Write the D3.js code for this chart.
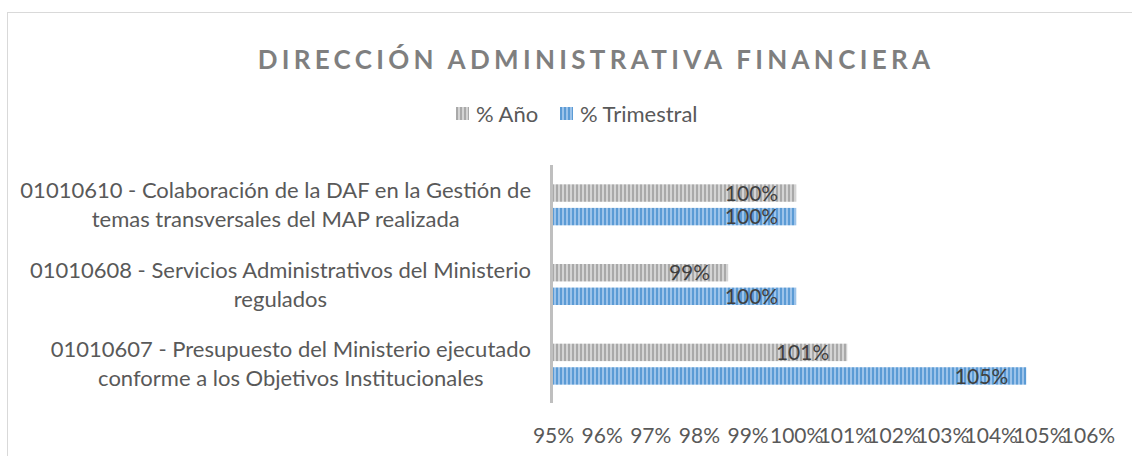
<!DOCTYPE html>
<html>
<head>
<meta charset="utf-8">
<script src="https://cdn.jsdelivr.net/npm/d3@7"></script>
<style>
  body { margin: 0; background: #fff; }
  text { font-family: Lato, "Open Sans", sans-serif; }
</style>
</head>
<body>
<div id="chart"></div>
<script>
// datos
const categorias = [
    ["01010610 - Colaboración de la DAF en la Gestión de", "temas transversales del MAP realizada"],
    ["01010608 - Servicios Administrativos del Ministerio", "regulados"],
    ["01010607 - Presupuesto del Ministerio ejecutado", "conforme a los Objetivos Institucionales"]
];
const series = ["% Año", "% Trimestral"];
const valoresAnio = [1.00, 0.986, 1.0105];
const valoresTrimestral = [1.00, 1.00, 1.0473];
const ticks = [0.95, 0.96, 0.97, 0.98, 0.99, 1.00, 1.01, 1.02, 1.03, 1.04, 1.05, 1.06];

const width = 1132, height = 456;

const svg = d3.select("#chart")
    .append("svg")
    .attr("width", width)
    .attr("height", height);

// patrones de rayas verticales
const defs = svg.append("defs");
const patrones = [
    { id: "rayaGris", claro: "#d4d4d4", oscuro: "#a9a9a9" },
    { id: "rayaAzul", claro: "#9cc3ea", oscuro: "#5b9bd5" }
];
patrones.forEach(p => {
    const pat = defs.append("pattern")
        .attr("id", p.id)
        .attr("patternUnits", "userSpaceOnUse")
        .attr("width", 4).attr("height", 4);
    pat.append("rect").attr("width", 4).attr("height", 4).attr("fill", p.claro);
    pat.append("rect").attr("width", 2).attr("height", 4).attr("fill", p.oscuro);
});
const relleno = ["url(#rayaGris)", "url(#rayaAzul)"];

// marco del área del gráfico
svg.append("rect")
    .attr("x", 7.5).attr("y", 12.5)
    .attr("width", 1200).attr("height", 600)
    .attr("fill", "none")
    .attr("stroke", "#d9d9d9");

// título
svg.append("text")
    .attr("x", 596).attr("y", 69)
    .attr("text-anchor", "middle")
    .attr("fill", "#7f7f7f")
    .attr("font-size", 26)
    .attr("font-weight", "bold")
    .attr("letter-spacing", 4.3)
    .text("DIRECCIÓN ADMINISTRATIVA FINANCIERA");

// leyenda
const leyenda = svg.append("g");
const posLeyenda = [456, 560];
series.forEach((s, i) => {
    leyenda.append("rect")
        .attr("x", posLeyenda[i]).attr("y", 107)
        .attr("width", 13).attr("height", 13)
        .attr("fill", relleno[i]);
    leyenda.append("text")
        .attr("x", posLeyenda[i] + 20).attr("y", 114)
        .attr("dy", "0.35em")
        .attr("fill", "#595959")
        .attr("font-size", 22)
        .text(s);
});

// escalas
const x = d3.scaleLinear().domain([0.95, 1.06]).range([553, 1088]);
const idx = d3.range(categorias.length);
const y = d3.scaleBand().domain(idx).range([165, 404]);
const ySub = d3.scaleBand().domain(series).range([0, 41]).paddingInner(0.26);
const offset = (y.bandwidth() - 41) / 2;

const fmt = d3.format(".0%");
const datos = [valoresAnio, valoresTrimestral];

// barras
series.forEach((s, si) => {
    const g = svg.append("g");
    g.selectAll("rect")
        .data(datos[si])
        .enter()
        .append("rect")
        .attr("x", x(0.95))
        .attr("y", (d, i) => y(i) + offset + ySub(s))
        .attr("width", d => x(d) - x(0.95))
        .attr("height", ySub.bandwidth())
        .attr("fill", relleno[si]);
    g.selectAll("text")
        .data(datos[si])
        .enter()
        .append("text")
        .attr("x", d => x(d) - 18)
        .attr("y", (d, i) => y(i) + offset + ySub(s) + ySub.bandwidth() / 2)
        .attr("dy", "0.36em")
        .attr("text-anchor", "end")
        .attr("fill", "#404040")
        .attr("font-size", 21)
        .text(d => fmt(d));
});

// eje vertical
svg.append("line")
    .attr("x1", 551.5).attr("x2", 551.5)
    .attr("y1", 165).attr("y2", 403)
    .attr("stroke", "#bfbfbf")
    .attr("stroke-width", 3);

// etiquetas de categoría (líneas centradas, bloque alineado a la derecha)
const derecha = 531;
idx.forEach(i => {
    const g = svg.append("g");
    const lineas = g.selectAll("text")
        .data(categorias[i])
        .enter()
        .append("text")
        .attr("y", (d, j) => y(i) + y.bandwidth() / 2 + (j - 0.5) * 29)
        .attr("dy", "0.35em")
        .attr("text-anchor", "middle")
        .attr("fill", "#595959")
        .attr("font-size", 22)
        .text(d => d);
    let maxW = 0;
    lineas.each(function () { maxW = Math.max(maxW, this.getComputedTextLength()); });
    lineas.attr("x", derecha - maxW / 2);
});

// eje x
const ejeX = d3.axisBottom(x)
    .tickValues(ticks)
    .tickFormat(fmt)
    .tickSize(0);
svg.append("g")
    .attr("transform", "translate(0,425)")
    .call(ejeX)
    .call(g => g.select(".domain").remove())
    .call(g => g.selectAll("text")
        .attr("fill", "#595959")
        .attr("font-size", 21)
        .attr("font-family", "Lato, 'Open Sans', sans-serif"));
</script>
</body>
</html>
